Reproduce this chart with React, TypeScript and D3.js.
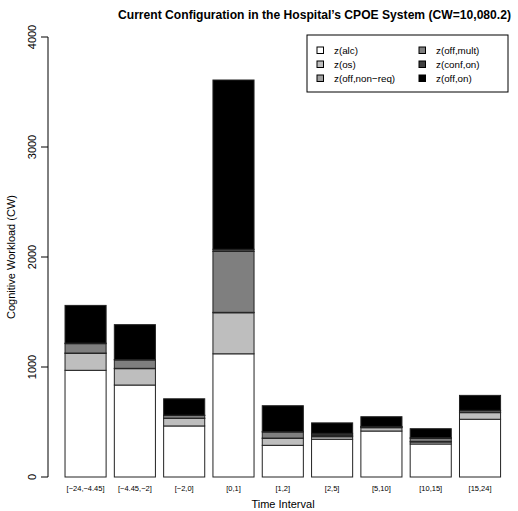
import React from "react";
import * as d3 from "d3";

const categories = ["[-24,-4.45]", "[-4.45,-2]", "[-2,0]", "[0,1]", "[1,2]", "[2,5]", "[5,10]", "[10,15]", "[15,24]"];
const alc = [970, 836, 464, 1120, 288, 343, 418, 300, 525];
const os = [154, 149, 69, 373, 63, 23, 30, 18, 60];
const offNonReq = [3, 3, 2, 4, 3, 6, 3, 6, 3];
const offMult = [85, 76, 24, 553, 55, 10, 6, 27, 15];
const confOn = [5, 4, 3, 20, 3, 15, 3, 6, 3];
const offOn = [343, 317, 149, 1539, 236, 95, 88, 82, 136];
const seriesNames = ["z(alc)", "z(os)", "z(off,non\u2212req)", "z(off,mult)", "z(conf,on)", "z(off,on)"];
const seriesColors = ["#FFFFFF", "#BEBEBE", "#A0A0A0", "#7F7F7F", "#3F3F3F", "#000000"];
const yTicks = [0, 1000, 2000, 3000, 4000];
const title = "Current Configuration in the Hospital\u2019s CPOE System (CW=10,080.2)";

const FONT = "'Liberation Sans', Arial, Helvetica, sans-serif";

export default function App() {
  const W = 518, H = 511;
  const series = [alc, os, offNonReq, offMult, confOn, offOn];
  const x = d3.scaleLinear().domain([-0.224, 11.224]).range([47.6, 518]);
  const y = d3.scaleLinear().domain([0, 4000]).range([477, 37]);

  const rows = categories.map((c, i) => {
    const o: any = { cat: c };
    seriesNames.forEach((n, k) => (o[n] = series[k][i]));
    return o;
  });
  const stacked = d3.stack().keys(seriesNames)(rows);

  return (
    <svg width={W} height={H} style={{ position: "absolute", left: 0, top: 0, background: "#fff" }}>
      <rect x={0} y={0} width={W} height={H} fill="#fff" />
      <text
        x={118}
        y={19}
        fontFamily={FONT}
        fontWeight="bold"
        fontSize={12.3}
        textLength={393}
        lengthAdjust="spacingAndGlyphs"
      >
        {title}
      </text>
      {stacked.map((layer, k) => (
        <g key={k}>
          {layer.map((d, i) => {
            const x0 = x(0.2 + 1.2 * i);
            const x1 = x(1.2 + 1.2 * i);
            return (
              <rect
                key={i}
                x={x0}
                y={y(d[1])}
                width={x1 - x0}
                height={Math.max(0, y(d[0]) - y(d[1]))}
                fill={seriesColors[k]}
                stroke="#222"
                strokeWidth={1}
              />
            );
          })}
        </g>
      ))}
      {/* y axis */}
      <line x1={48} x2={48} y1={y(0)} y2={y(4000)} stroke="#000" />
      {yTicks.map((t) => (
        <g key={t}>
          <line x1={41} x2={48} y1={y(t)} y2={y(t)} stroke="#000" />
          <text
            transform={`translate(36,${y(t)}) rotate(-90)`}
            textAnchor="middle"
            fontFamily={FONT}
            fontSize={11}
          >
            {t}
          </text>
        </g>
      ))}
      <text
        transform={`translate(15,${(y(0) + y(4000)) / 2}) rotate(-90)`}
        textAnchor="middle"
        fontFamily={FONT}
        fontSize={11}
      >
        Cognitive Workload (CW)
      </text>
      {categories.map((c, i) => (
        <text
          key={c}
          x={x(0.7 + 1.2 * i)}
          y={491}
          textAnchor="middle"
          fontFamily={FONT}
          fontSize={7.5}
        >
          {c.replace(/-/g, "\u2212")}
        </text>
      ))}
      <text x={283} y={508} textAnchor="middle" fontFamily={FONT} fontSize={11}>
        Time Interval
      </text>
      {/* legend */}
      <rect x={307} y={35} width={201} height={57} fill="#fff" stroke="#000" />
      {seriesNames.map((n, k) => {
        const col = Math.floor(k / 3);
        const row = k % 3;
        const lx = col === 0 ? 317 : 419;
        const ly = 50.5 + row * 14;
        return (
          <g key={n}>
            <rect x={lx} y={ly - 3.5} width={6.5} height={6.5} fill={seriesColors[k]} stroke="#000" />
            <text x={lx + 17} y={ly + 3.5} fontFamily={FONT} fontSize={9.8}>
              {n}
            </text>
          </g>
        );
      })}
    </svg>
  );
}
